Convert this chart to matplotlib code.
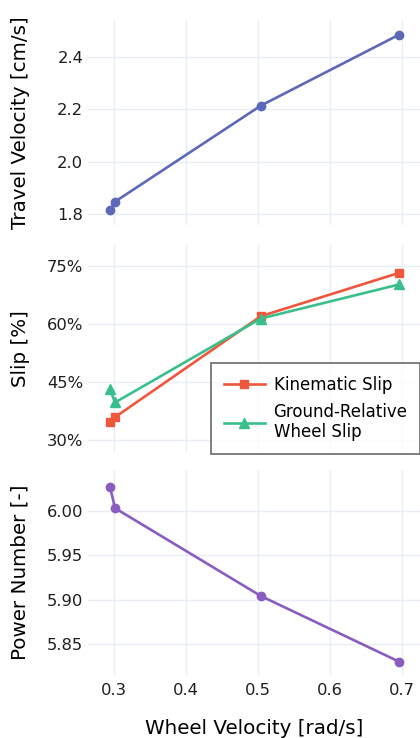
import numpy as np
import matplotlib
matplotlib.use("Agg")
import matplotlib.pyplot as plt
from matplotlib.ticker import FuncFormatter

# data
wheel_vel = [0.2945, 0.3014, 0.504, 0.696]
travel_vel = [1.816, 1.847, 2.214, 2.485]
kin_slip = [34.6, 35.9, 62.0, 73.2]
ground_slip = [43.1, 39.7, 61.4, 70.2]
power_num = [6.027, 6.003, 5.904, 5.830]

x_ticks = [0.3, 0.4, 0.5, 0.6, 0.7]
travel_ticks = [1.8, 2.0, 2.2, 2.4]
slip_ticks = [30, 45, 60, 75]
power_ticks = [5.85, 5.90, 5.95, 6.00]

BLUE = "#5c68b8"
RED = "#ee573c"
GREEN = "#38bf8c"
PURPLE = "#8a5cc0"
GRID = "#e9eef6"

plt.rcParams['font.family'] = ['DejaVu Sans']
W, H = 420, 738
fig = plt.figure(figsize=(W / 100, H / 100), dpi=100)


def px_axes(left, top, right, bottom):
    return fig.add_axes([left / W, 1 - bottom / H, (right - left) / W, (bottom - top) / H])


def style(ax, yticks, ylim):
    ax.set_xlim(0.2639, 0.725)
    ax.set_ylim(*ylim)
    ax.set_xticks(x_ticks)
    ax.set_yticks(yticks)
    ax.grid(True, color=GRID, lw=1.0)
    ax.set_axisbelow(True)
    for s in ax.spines.values():
        s.set_visible(False)
    ax.tick_params(length=0, labelsize=11.8, pad=3.5, colors="#1e1e1e")


ax1 = px_axes(88, 20, 420, 225)
ax2 = px_axes(88, 245, 420, 452)
ax3 = px_axes(88, 470, 420, 675)

ax1.plot(wheel_vel, travel_vel, color=BLUE, lw=1.9, marker='o', ms=6)
style(ax1, travel_ticks, (1.758, 2.541))
ax1.yaxis.set_major_formatter(FuncFormatter(lambda v, p: f"{v:.1f}"))
ax1.tick_params(axis='x', labelbottom=False)
ax1.set_ylabel("Travel Velocity [cm/s]", fontsize=14.3)

ax2.plot(wheel_vel, kin_slip, color=RED, lw=1.9, marker='s', ms=6, label="Kinematic Slip")
ax2.plot(wheel_vel, ground_slip, color=GREEN, lw=1.9, marker='^', ms=7.5,
         label="Ground-Relative\nWheel Slip")
style(ax2, slip_ticks, (26.9, 80.4))
ax2.yaxis.set_major_formatter(FuncFormatter(lambda v, p: f"{v:.0f}%"))
ax2.tick_params(axis='x', labelbottom=False)
ax2.set_ylabel("Slip [%]", fontsize=14.3)
leg = ax2.legend(loc='upper left', bbox_to_anchor=(211 / W, 1 - 363 / H),
                 bbox_transform=fig.transFigure, fontsize=12, frameon=True,
                 fancybox=False, handlelength=2.5, borderpad=0.75, labelspacing=0.55,
                 handletextpad=0.5, borderaxespad=0)
leg.get_frame().set_edgecolor("#444444")
leg.get_frame().set_linewidth(1.2)

ax3.plot(wheel_vel, power_num, color=PURPLE, lw=1.9, marker='o', ms=6)
style(ax3, power_ticks, (5.815, 6.046))
ax3.yaxis.set_major_formatter(FuncFormatter(lambda v, p: f"{v:.2f}"))
ax3.xaxis.set_major_formatter(FuncFormatter(lambda v, p: f"{v:.1f}"))
ax3.tick_params(axis='x', pad=6)
ax3.set_ylabel("Power Number [-]", fontsize=14.3)
ax3.set_xlabel("Wheel Velocity [rad/s]", fontsize=14.3, labelpad=15)

for ax in (ax1, ax2, ax3):
    ax.yaxis.set_label_coords(-58 / (420 - 88), 0.5)

fig.savefig("out.png", dpi=100)
